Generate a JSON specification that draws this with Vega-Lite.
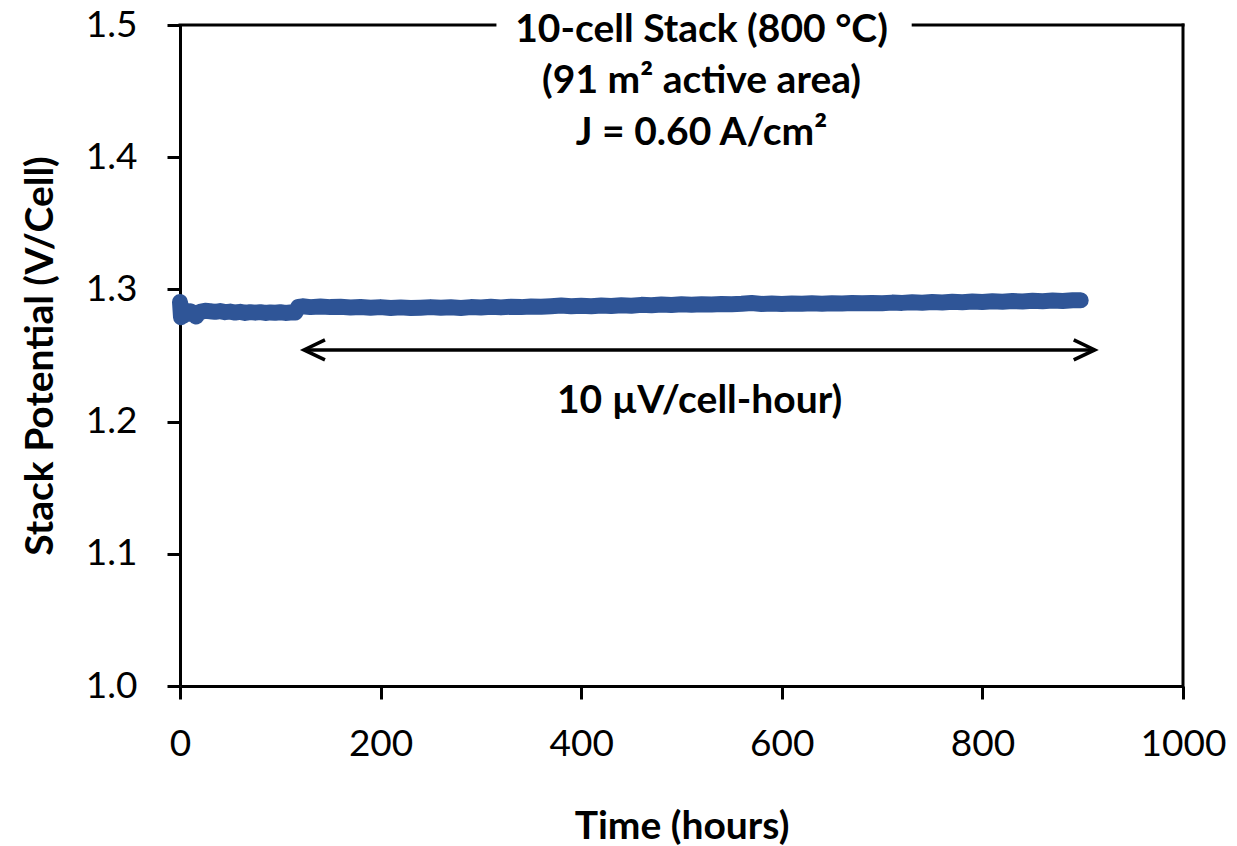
{
  "$schema": "https://vega.github.io/schema/vega-lite/v6.json",
  "width": 1003,
  "height": 661,
  "autosize": {"type": "none"},
  "padding": {"left": 180, "top": 25, "right": 54, "bottom": 160},
  "background": "white",
  "config": {
    "view": {"stroke": null},
    "font": "Lato",
    "axis": {
      "domainColor": "black", "domainWidth": 3, "tickColor": "black", "tickWidth": 3,
      "tickSize": 13, "grid": false, "labelColor": "black", "titleColor": "black",
      "labelFont": "Lato", "titleFont": "Lato", "labelFontSize": 37, "titleFontSize": 39,
      "titleFontWeight": "bold", "labelFontWeight": "normal", "labelFlush": false, "labelOverlap": false
    }
  },
  "datasets": {
    "series": [
      {"t": 0, "v": 1.2905}, {"t": 1, "v": 1.279}, {"t": 2, "v": 1.286}, {"t": 3, "v": 1.28},
      {"t": 5, "v": 1.284}, {"t": 8, "v": 1.2815}, {"t": 10, "v": 1.2835}, {"t": 14, "v": 1.282},
      {"t": 16, "v": 1.2795}, {"t": 20, "v": 1.283}, {"t": 25, "v": 1.2838}, {"t": 30, "v": 1.2835},
      {"t": 35, "v": 1.283}, {"t": 40, "v": 1.2836}, {"t": 45, "v": 1.2828}, {"t": 50, "v": 1.2832},
      {"t": 55, "v": 1.2825}, {"t": 60, "v": 1.283}, {"t": 65, "v": 1.2822}, {"t": 70, "v": 1.2828},
      {"t": 75, "v": 1.2824}, {"t": 80, "v": 1.2828}, {"t": 85, "v": 1.2822}, {"t": 90, "v": 1.2826},
      {"t": 95, "v": 1.2823}, {"t": 100, "v": 1.2827}, {"t": 105, "v": 1.2822}, {"t": 110, "v": 1.2825},
      {"t": 115, "v": 1.2826}, {"t": 118, "v": 1.2868}, {"t": 122, "v": 1.2872}, {"t": 130, "v": 1.2866},
      {"t": 140, "v": 1.287}, {"t": 150, "v": 1.2866}, {"t": 160, "v": 1.2868}, {"t": 170, "v": 1.2863},
      {"t": 180, "v": 1.2867}, {"t": 190, "v": 1.2862}, {"t": 200, "v": 1.2866}, {"t": 210, "v": 1.286},
      {"t": 220, "v": 1.2864}, {"t": 230, "v": 1.2859}, {"t": 240, "v": 1.2862}, {"t": 250, "v": 1.2866},
      {"t": 260, "v": 1.2861}, {"t": 270, "v": 1.2865}, {"t": 280, "v": 1.286}, {"t": 290, "v": 1.2866},
      {"t": 300, "v": 1.2863}, {"t": 310, "v": 1.2868}, {"t": 320, "v": 1.2864}, {"t": 330, "v": 1.2869},
      {"t": 340, "v": 1.2866}, {"t": 350, "v": 1.2871}, {"t": 360, "v": 1.2868}, {"t": 370, "v": 1.2873},
      {"t": 380, "v": 1.2878}, {"t": 390, "v": 1.2872}, {"t": 400, "v": 1.2876}, {"t": 410, "v": 1.2873},
      {"t": 420, "v": 1.2878}, {"t": 430, "v": 1.2875}, {"t": 440, "v": 1.288}, {"t": 450, "v": 1.2877},
      {"t": 460, "v": 1.2883}, {"t": 470, "v": 1.288}, {"t": 480, "v": 1.2886}, {"t": 490, "v": 1.2882},
      {"t": 500, "v": 1.2887}, {"t": 510, "v": 1.2884}, {"t": 520, "v": 1.2888}, {"t": 530, "v": 1.2885},
      {"t": 540, "v": 1.2889}, {"t": 550, "v": 1.2887}, {"t": 560, "v": 1.2891}, {"t": 570, "v": 1.2897},
      {"t": 580, "v": 1.289}, {"t": 590, "v": 1.2893}, {"t": 600, "v": 1.289}, {"t": 610, "v": 1.2894},
      {"t": 620, "v": 1.2891}, {"t": 630, "v": 1.2895}, {"t": 640, "v": 1.2892}, {"t": 650, "v": 1.2896},
      {"t": 660, "v": 1.2893}, {"t": 670, "v": 1.2897}, {"t": 680, "v": 1.2895}, {"t": 690, "v": 1.2898},
      {"t": 700, "v": 1.2896}, {"t": 710, "v": 1.29}, {"t": 720, "v": 1.2898}, {"t": 730, "v": 1.2902},
      {"t": 740, "v": 1.2899}, {"t": 750, "v": 1.2904}, {"t": 760, "v": 1.2901}, {"t": 770, "v": 1.2906},
      {"t": 780, "v": 1.2903}, {"t": 790, "v": 1.2908}, {"t": 800, "v": 1.2905}, {"t": 810, "v": 1.291},
      {"t": 820, "v": 1.2907}, {"t": 830, "v": 1.2912}, {"t": 840, "v": 1.2909}, {"t": 850, "v": 1.2914},
      {"t": 860, "v": 1.2911}, {"t": 870, "v": 1.2916}, {"t": 880, "v": 1.2913}, {"t": 890, "v": 1.2918},
      {"t": 898, "v": 1.2917}
    ],
    "border": [
      {"x1": 0, "x2": 314, "y": 1.5},
      {"x1": 731, "x2": 1000, "y": 1.5}
    ],
    "rborder": [
      {"x": 1000, "y1": 1.0, "y2": 1.5}
    ],
    "arrow": [
      {"x1": 123.6, "x2": 912, "y": 1.2542}
    ],
    "heads": [
      {"x": 123.6, "y": 1.2542, "dir": "left"},
      {"x": 912, "y": 1.2542, "dir": "right"}
    ],
    "notes": [
      {"x": 520, "y": 1.4871, "text": "10-cell Stack (800 °C)"},
      {"x": 520, "y": 1.4486, "text": "(91 m² active area)"},
      {"x": 520, "y": 1.4092, "text": "J = 0.60 A/cm²"},
      {"x": 518, "y": 1.2065, "text": "10 µV/cell-hour)"}
    ]
  },
  "layer": [
    {
      "data": {"name": "series"},
      "mark": {"type": "line", "color": "#2F5597", "strokeWidth": 16, "strokeCap": "round", "strokeJoin": "round"},
      "encoding": {
        "x": {
          "field": "t", "type": "quantitative",
          "scale": {"domain": [0, 1000], "nice": false},
          "axis": {"values": [0, 200, 400, 600, 800, 1000], "format": "d", "title": "Time (hours)", "labelPadding": 27, "labelBaseline": "top", "titleX": 501.5, "titleY": 152, "titleBaseline": "alphabetic", "titleAlign": "center"}
        },
        "y": {
          "field": "v", "type": "quantitative",
          "scale": {"domain": [1.0, 1.5], "nice": false, "zero": false},
          "axis": {"values": [1.0, 1.1, 1.2, 1.3, 1.4, 1.5], "format": ".1f", "title": "Stack Potential (V/Cell)", "labelPadding": 30, "titleAngle": -90, "titleX": -128, "titleY": 330.5, "titleBaseline": "alphabetic", "titleAlign": "center"}
        }
      }
    },
    {
      "data": {"name": "border"},
      "mark": {"type": "rule", "color": "black", "strokeWidth": 3, "strokeCap": "square"},
      "encoding": {
        "x": {"field": "x1", "type": "quantitative"},
        "x2": {"field": "x2"},
        "y": {"field": "y", "type": "quantitative"}
      }
    },
    {
      "data": {"name": "rborder"},
      "mark": {"type": "rule", "color": "black", "strokeWidth": 3, "strokeCap": "square"},
      "encoding": {
        "x": {"field": "x", "type": "quantitative"},
        "y": {"field": "y1", "type": "quantitative"},
        "y2": {"field": "y2"}
      }
    },
    {
      "data": {"name": "arrow"},
      "mark": {"type": "rule", "color": "black", "strokeWidth": 3.5},
      "encoding": {
        "x": {"field": "x1", "type": "quantitative"},
        "x2": {"field": "x2"},
        "y": {"field": "y", "type": "quantitative"}
      }
    },
    {
      "data": {"name": "heads"},
      "mark": {"type": "point", "filled": false, "size": 400, "strokeWidth": 3.5, "color": "black", "opacity": 1},
      "encoding": {
        "x": {"field": "x", "type": "quantitative"},
        "y": {"field": "y", "type": "quantitative"},
        "shape": {"field": "dir", "type": "nominal", "scale": {"domain": ["left", "right"], "range": ["M2.1,-1L0,0L2.1,1", "M-2.1,-1L0,0L-2.1,1"]}, "legend": null}
      }
    },
    {
      "data": {"name": "notes"},
      "mark": {"type": "text", "font": "Lato", "fontWeight": "bold", "fontSize": 39, "align": "center", "baseline": "alphabetic", "color": "black"},
      "encoding": {
        "x": {"field": "x", "type": "quantitative"},
        "y": {"field": "y", "type": "quantitative"},
        "text": {"field": "text"}
      }
    }
  ]
}
